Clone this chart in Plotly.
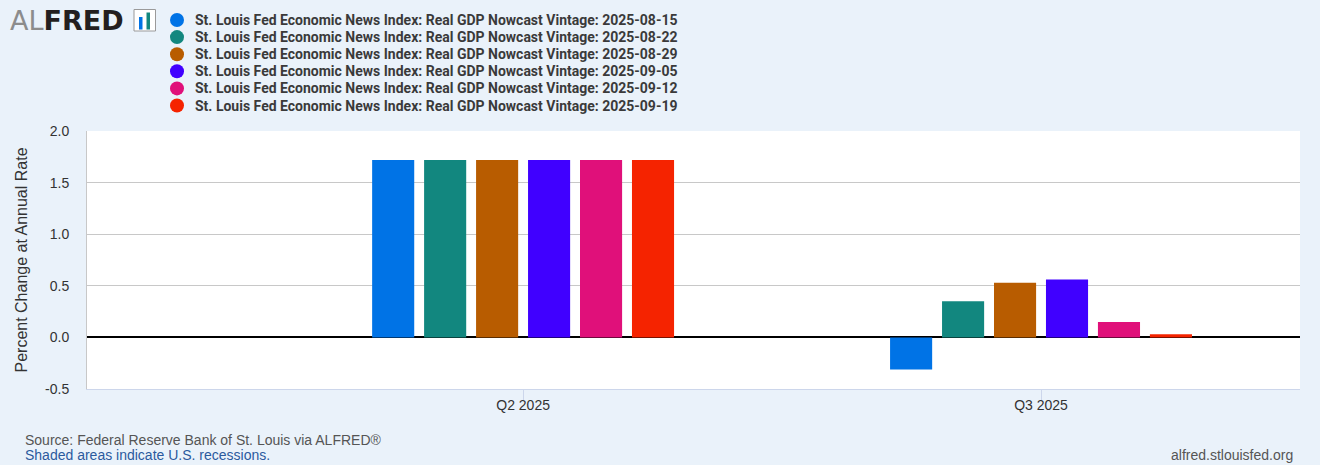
import plotly.graph_objects as go

quarters = ["Q2 2025", "Q3 2025"]
vintages = ["2025-08-15", "2025-08-22", "2025-08-29", "2025-09-05", "2025-09-12", "2025-09-19"]
v_0815 = [1.72, -0.31]
v_0822 = [1.72, 0.35]
v_0829 = [1.72, 0.53]
v_0905 = [1.72, 0.56]
v_0912 = [1.72, 0.15]
v_0919 = [1.72, 0.03]
series_values = [v_0815, v_0822, v_0829, v_0905, v_0912, v_0919]
colors = ["#0073E6", "#12877F", "#B85C00", "#4000FF", "#E0107A", "#F52300"]
series_prefix = "St. Louis Fed Economic News Index: Real GDP Nowcast Vintage: "
y_ticks = [-0.5, 0.0, 0.5, 1.0, 1.5, 2.0]
y_ticktext = ["-0.5", "0.0", "0.5", "1.0", "1.5", "2.0"]

BG = "#EAF2FA"
W, H = 1320, 465
L, R, T, B = 87, 20, 131, 76

fig = go.Figure()
for vint, vals, col in zip(vintages, series_values, colors):
    fig.add_trace(go.Bar(x=quarters, y=vals, name=series_prefix + vint,
                         marker=dict(color=col, line=dict(width=0)), showlegend=False))

pw = W - L - R
ph = H - T - B
def px(xp):
    return (xp - L) / pw
def py(yp):
    return (H - B - yp) / ph

shapes = [
    dict(type="rect", xref="paper", yref="paper", x0=px(134), x1=px(155.5), y0=py(31), y1=py(9.5),
         line=dict(color="#9a9a9a", width=1), fillcolor="white", layer="above"),
    dict(type="rect", xref="paper", yref="paper", x0=px(139), x1=px(142.5), y0=py(29.5), y1=py(17),
         line=dict(width=0), fillcolor="#0073E6", layer="above"),
    dict(type="rect", xref="paper", yref="paper", x0=px(146.5), x1=px(150), y0=py(29.5), y1=py(12.5),
         line=dict(width=0), fillcolor="#12877F", layer="above"),
]

annotations = [
    dict(xref="paper", yref="paper", x=px(8), y=py(20.5), xanchor="left", yanchor="middle", showarrow=False,
         text="<span style='color:#8c8c8c;font-weight:normal'>AL</span><b>FRED</b>",
         font=dict(family="DejaVu Sans, sans-serif", size=27, color="#231f20")),
    dict(xref="paper", yref="paper", x=px(23), y=py(440), xanchor="left", yanchor="middle", showarrow=False,
         text="Source: Federal Reserve Bank of St. Louis via ALFRED®",
         font=dict(family="Liberation Sans, Arial, sans-serif", size=14, color="#555555")),
    dict(xref="paper", yref="paper", x=px(23), y=py(455), xanchor="left", yanchor="middle", showarrow=False,
         text="Shaded areas indicate U.S. recessions.",
         font=dict(family="Liberation Sans, Arial, sans-serif", size=14, color="#2B5A9E")),
    dict(xref="paper", yref="paper", x=px(1295), y=py(455), xanchor="right", yanchor="middle", showarrow=False,
         text="alfred.stlouisfed.org",
         font=dict(family="Liberation Sans, Arial, sans-serif", size=14, color="#555555")),
]

# manual legend (circle swatches + bold labels)
for i, (vint, col) in enumerate(zip(vintages, colors)):
    cy = 20 + i * 17.1
    shapes.append(dict(type="circle", xref="paper", yref="paper",
                       x0=px(170), x1=px(184), y0=py(cy + 7), y1=py(cy - 7),
                       line=dict(width=0), fillcolor=col, layer="above"))
    annotations.append(dict(xref="paper", yref="paper", x=px(193), y=py(cy), xanchor="left", yanchor="middle",
                            showarrow=False, text="<b>" + series_prefix + vint + "</b>",
                            font=dict(family="Roboto, sans-serif", size=14, color="#3a3a3a")))

fig.update_layout(
    width=W, height=H,
    margin=dict(l=L, r=R, t=T, b=B, pad=0, autoexpand=False),
    paper_bgcolor=BG, plot_bgcolor="white",
    barmode="group", bargap=0.398, bargroupgap=0.19,
    font=dict(family="Liberation Sans, Arial, sans-serif", size=14, color="#333333"),
    showlegend=False,
    shapes=shapes, annotations=annotations,
    xaxis=dict(type="category", range=[-0.842, 1.500], showgrid=False, showline=True,
               linecolor="#ccd6eb", linewidth=1, ticks="outside", ticklen=10, tickcolor="#ccd6eb",
               ticklabelstandoff=-7,
               tickfont=dict(size=14, color="#333333"), zeroline=False, fixedrange=True),
    yaxis=dict(range=[-0.5, 2.0], tickvals=y_ticks, ticktext=y_ticktext, showgrid=True,
               gridcolor="#c8c8c8", gridwidth=1, zeroline=True, zerolinecolor="#000000", zerolinewidth=2,
               showline=True, linecolor="#c8c8c8", linewidth=1, ticks="", ticklabelstandoff=14,
               title=dict(text="Percent Change at Annual Rate", font=dict(size=16, color="#333333"), standoff=13),
               tickfont=dict(size=14, color="#333333"), fixedrange=True),
)

fig.write_html("out.html", config={"displayModeBar": False},
               post_script="document.body.style.margin='0';document.body.style.overflow='hidden';"
                           "document.body.style.background='" + BG + "';")
